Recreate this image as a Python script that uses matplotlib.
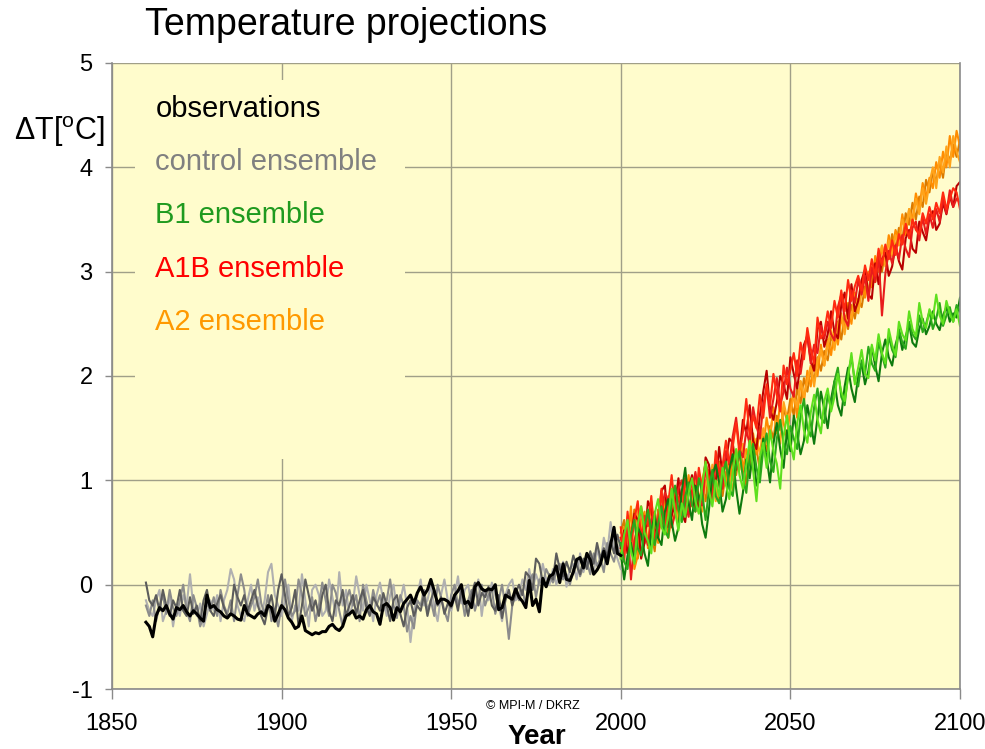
import numpy as np
import matplotlib
matplotlib.use("Agg")
import matplotlib.pyplot as plt
from matplotlib.patches import Rectangle

plt.rcParams['font.family'] = ['Liberation Sans', 'DejaVu Sans']
plt.rcParams['mathtext.fontset'] = 'custom'
plt.rcParams['mathtext.rm'] = 'Liberation Sans'
plt.rcParams['axes.unicode_minus'] = False

# ---- data ----
hist_years = np.arange(1860, 2001)
scen_years = np.arange(2000, 2101)

observations = [
    -0.36, -0.40, -0.50, -0.30, -0.22, -0.25, -0.20, -0.28, -0.33, -0.22,
    -0.24, -0.20, -0.26, -0.30, -0.25, -0.28, -0.32, -0.35, -0.10, -0.22,
    -0.20, -0.24, -0.26, -0.30, -0.32, -0.28, -0.30, -0.33, -0.34, -0.20,
    -0.28, -0.30, -0.32, -0.28, -0.26, -0.30, -0.20, -0.22, -0.35, -0.28,
    -0.20, -0.24, -0.32, -0.36, -0.42, -0.40, -0.30, -0.44, -0.46, -0.48,
    -0.46, -0.47, -0.45, -0.45, -0.40, -0.38, -0.42, -0.44, -0.40, -0.30,
    -0.28, -0.25, -0.32, -0.30, -0.33, -0.24, -0.20, -0.26, -0.28, -0.38,
    -0.20, -0.18, -0.22, -0.34, -0.22, -0.26, -0.18, -0.14, -0.10, -0.18,
    -0.08, -0.02, -0.10, -0.05, 0.05, -0.06, -0.18, -0.14, -0.14, -0.16,
    -0.20, -0.10, -0.06, 0.00, -0.18, -0.16, -0.22, -0.02, 0.02, -0.04,
    -0.06, -0.04, -0.05, 0.00, -0.24, -0.22, -0.10, -0.12, -0.14, -0.04,
    -0.12, -0.16, -0.22, 0.04, -0.20, -0.14, -0.26, 0.06, -0.02, 0.08,
    0.10, 0.18, 0.02, 0.20, 0.05, 0.04, 0.12, 0.24, 0.26, 0.16,
    0.30, 0.24, 0.10, 0.14, 0.20, 0.32, 0.20, 0.38, 0.55, 0.30,
    0.28]

control_1 = [
    0.02, -0.15, -0.20, -0.10, -0.25, -0.05, -0.20, -0.30, -0.15, -0.22,
    -0.05, -0.25, -0.30, -0.12, -0.28, -0.20, -0.35, -0.15, -0.05, -0.25,
    -0.30, -0.18, -0.10, -0.22, -0.30, -0.28, 0.00, -0.12, -0.20, -0.10,
    -0.25, -0.15, -0.05, -0.20, -0.30, -0.38, -0.22, -0.10, -0.30, -0.05,
    0.10, -0.10, -0.30, -0.22, -0.05, -0.40, -0.20, 0.05, -0.10, -0.25,
    -0.15, -0.30, -0.10, 0.00, -0.25, -0.35, -0.15, -0.20, -0.05, -0.30,
    -0.20, -0.10, -0.28, -0.15, -0.05, -0.22, -0.30, -0.12, -0.18, -0.25,
    -0.08, -0.20, -0.35, -0.15, -0.10, -0.28, -0.40, -0.22, -0.15, -0.30,
    -0.20, -0.25, -0.10, -0.30, -0.15, -0.05, -0.20, -0.12, -0.28, -0.18,
    -0.22, -0.10, -0.25, -0.05, -0.15, -0.30, -0.10, 0.02, -0.20, -0.08,
    -0.12, -0.02, -0.20, -0.25, -0.10, -0.32, -0.15, -0.05, -0.20, -0.08,
    0.00, -0.10, 0.12, 0.08, -0.05, 0.25, 0.20, 0.02, -0.02, 0.10,
    0.05, 0.30, 0.15, 0.08, 0.22, 0.12, 0.28, 0.18, 0.10, 0.25,
    0.15, 0.32, 0.20, 0.40, 0.25, 0.35, 0.28, 0.42, 0.30, 0.48,
    0.35]

control_2 = [
    -0.20, -0.30, -0.15, -0.35, -0.20, -0.10, -0.28, -0.05, -0.22, -0.30,
    -0.15, 0.00, -0.25, -0.35, -0.10, -0.22, -0.40, -0.30, -0.18, -0.25,
    -0.12, -0.30, -0.05, -0.20, -0.28, -0.15, -0.35, -0.10, 0.10, -0.05,
    -0.30, -0.20, -0.12, 0.05, -0.18, -0.28, -0.10, -0.35, -0.25, -0.40,
    -0.20, 0.05, -0.15, -0.30, -0.25, 0.05, -0.10, -0.30, -0.22, -0.12,
    -0.35, -0.20, 0.02, -0.15, -0.30, 0.00, -0.08, -0.25, -0.40, -0.15,
    -0.05, -0.20, -0.10, -0.35, 0.00, -0.15, -0.28, -0.05, -0.20, -0.10,
    -0.25, -0.15, 0.05, -0.20, -0.32, -0.10, -0.20, -0.45, -0.30, -0.42,
    -0.15, -0.20, -0.05, -0.25, -0.15, -0.30, 0.00, -0.12, -0.25, -0.35,
    -0.10, 0.00, -0.20, -0.08, -0.30, -0.15, -0.05, -0.25, -0.12, 0.00,
    -0.20, -0.10, -0.05, -0.28, -0.15, 0.00, -0.22, -0.52, -0.20, -0.08,
    -0.15, -0.05, -0.20, 0.02, 0.10, -0.12, 0.05, 0.00, 0.15, 0.08,
    0.02, 0.12, 0.20, 0.05, 0.10, 0.00, 0.15, 0.25, 0.08, 0.18,
    0.22, 0.10, 0.30, 0.18, 0.25, 0.12, 0.40, 0.30, 0.22, 0.38,
    0.25]

control_3 = [
    -0.15, -0.25, -0.30, -0.15, -0.05, -0.35, -0.25, -0.12, -0.40, -0.20,
    -0.30, -0.10, -0.20, 0.10, -0.22, -0.30, -0.18, -0.40, -0.28, -0.15,
    -0.25, -0.10, -0.35, -0.15, -0.05, 0.15, 0.05, -0.20, -0.30, -0.35,
    -0.15, 0.00, -0.25, -0.12, -0.30, -0.15, 0.12, 0.20, -0.10, -0.20,
    -0.30, -0.15, 0.00, -0.35, -0.20, -0.25, 0.10, -0.15, -0.40, -0.05,
    0.00, -0.10, -0.30, -0.25, 0.05, -0.12, -0.30, 0.12, -0.20, -0.05,
    -0.30, -0.18, 0.08, -0.10, -0.25, 0.00, -0.15, -0.35, -0.10, 0.02,
    -0.15, -0.30, -0.10, 0.00, -0.25, -0.15, 0.00, -0.20, -0.55, -0.25,
    -0.10, 0.05, -0.20, -0.15, 0.00, -0.22, -0.35, -0.10, 0.05, -0.15,
    -0.25, -0.12, 0.08, -0.18, -0.05, 0.00, -0.20, -0.10, 0.05, -0.30,
    -0.05, -0.15, 0.02, -0.10, -0.20, -0.35, -0.10, 0.00, 0.05, -0.15,
    -0.10, 0.05, -0.05, 0.15, -0.05, 0.10, 0.00, 0.20, 0.05, 0.00,
    0.15, 0.00, 0.10, 0.22, -0.02, 0.15, 0.20, 0.05, 0.30, 0.12,
    0.25, 0.20, 0.10, 0.35, 0.20, 0.45, 0.30, 0.60, 0.35, 0.25,
    0.15]

b1_1 = [
    0.30,
    0.05, 0.28, 0.40, 0.22, 0.55, 0.48, 0.30, 0.18, 0.52, 0.66,
    0.45, 0.38, 0.70, 0.82, 0.60, 0.42, 0.55, 0.90, 1.12, 0.78,
    0.62, 0.95, 0.85, 0.58, 0.45, 0.72, 1.05, 1.15, 0.98, 0.70,
    0.82, 1.10, 1.25, 0.92, 0.68, 0.88, 1.20, 1.02, 1.30, 0.95,
    1.08, 1.40, 1.22, 0.98, 1.35, 1.55, 1.30, 1.12, 1.48, 1.28,
    1.62, 1.45, 1.25, 1.38, 1.72, 1.55, 1.35, 1.60, 1.85, 1.68,
    1.50, 1.78, 1.95, 1.72, 1.62, 1.90, 2.08, 1.88, 1.75, 2.00,
    2.12, 1.92, 2.05, 2.28, 2.10, 1.95, 2.22, 2.35, 2.18, 2.10,
    2.30, 2.42, 2.25, 2.38, 2.50, 2.32, 2.28, 2.45, 2.55, 2.40,
    2.48, 2.62, 2.50, 2.44, 2.58, 2.66, 2.52, 2.60, 2.56, 2.75]

b1_2 = [
    0.40,
    0.22, 0.15, 0.48, 0.62, 0.35, 0.28, 0.55, 0.72, 0.50, 0.38,
    0.58, 0.75, 0.52, 0.45, 0.80, 0.95, 0.72, 0.60, 0.85, 0.98,
    0.76, 0.70, 1.02, 0.88, 0.62, 0.92, 1.10, 0.85, 0.78, 1.05,
    1.18, 0.92, 0.85, 1.15, 1.28, 1.02, 0.88, 1.22, 1.35, 1.12,
    0.98, 1.30, 1.45, 1.18, 1.08, 1.40, 1.58, 1.36, 1.25, 1.52,
    1.40, 1.30, 1.62, 1.78, 1.50, 1.42, 1.70, 1.88, 1.60, 1.55,
    1.82, 1.68, 1.95, 2.08, 1.80, 1.72, 2.02, 2.18, 1.95, 1.90,
    2.15, 2.02, 2.28, 2.12, 2.05, 2.32, 2.20, 2.08, 2.38, 2.25,
    2.18, 2.45, 2.32, 2.26, 2.52, 2.40, 2.35, 2.58, 2.42, 2.50,
    2.62, 2.45, 2.55, 2.70, 2.48, 2.58, 2.66, 2.52, 2.68, 2.62]

b1_3 = [
    0.25,
    0.48, 0.62, 0.32, 0.20, 0.58, 0.75, 0.50, 0.42, 0.30, 0.68,
    0.82, 0.55, 0.48, 0.66, 0.92, 0.70, 0.52, 0.78, 0.65, 0.88,
    1.02, 0.80, 0.68, 0.95, 1.18, 0.90, 0.75, 1.00, 0.85, 1.12,
    0.96, 0.82, 1.08, 1.30, 1.05, 0.92, 1.15, 1.38, 1.10, 0.80,
    1.22, 1.36, 1.12, 1.48, 1.28, 1.16, 0.92, 1.42, 1.62, 1.35,
    1.20, 1.55, 1.72, 1.48, 1.36, 1.65, 1.82, 1.58, 1.45, 1.76,
    1.88, 1.66, 1.80, 2.02, 1.85, 1.76, 1.98, 2.22, 1.92, 2.08,
    2.25, 2.02, 1.98, 2.30, 2.15, 2.40, 2.22, 2.12, 2.45, 2.30,
    2.20, 2.52, 2.40, 2.34, 2.62, 2.45, 2.38, 2.70, 2.52, 2.46,
    2.64, 2.55, 2.78, 2.58, 2.50, 2.72, 2.60, 2.52, 2.64, 2.48]

a1b_1 = [
    0.35,
    0.52, 0.30, 0.45, 0.68, 0.62, 0.25, 0.40, 0.80, 0.72, 0.48,
    0.58, 0.90, 0.95, 0.55, 0.66, 0.78, 1.02, 0.68, 0.60, 0.92,
    1.05, 0.88, 0.72, 0.80, 1.22, 1.15, 0.85, 0.98, 1.32, 1.05,
    1.18, 1.40, 1.36, 1.10, 1.25, 1.58, 1.45, 1.72, 1.38, 1.30,
    1.62, 1.85, 2.05, 1.68, 1.58, 1.75, 2.00, 1.92, 1.78, 2.18,
    2.02, 1.88, 2.12, 2.30, 2.38, 2.15, 2.05, 2.45, 2.52, 2.28,
    2.40, 2.62, 2.42, 2.36, 2.68, 2.80, 2.55, 2.88, 2.62, 2.72,
    2.92, 3.02, 2.78, 2.74, 3.08, 2.88, 3.12, 3.18, 2.96, 3.05,
    3.25, 3.10, 3.02, 3.32, 3.40, 3.22, 3.18, 3.48, 3.38, 3.30,
    3.52, 3.58, 3.40, 3.46, 3.66, 3.55, 3.72, 3.62, 3.82, 3.86]

a1b_2 = [
    0.45,
    0.30, 0.58, 0.05, 0.42, 0.55, 0.75, 0.50, 0.38, 0.62, 0.70,
    0.45, 0.72, 0.88, 0.80, 0.55, 0.68, 0.92, 1.00, 0.78, 0.65,
    0.90, 1.08, 0.82, 0.76, 1.12, 0.95, 0.80, 1.20, 1.10, 0.92,
    1.28, 1.15, 1.42, 1.60, 1.30, 1.22, 1.48, 1.35, 1.70, 1.52,
    1.40, 1.72, 1.90, 1.60, 1.78, 1.98, 1.72, 1.85, 2.08, 1.88,
    1.80, 2.15, 2.02, 2.25, 2.40, 2.12, 2.30, 2.22, 2.48, 2.36,
    2.52, 2.40, 2.34, 2.66, 2.78, 2.55, 2.48, 2.82, 2.70, 2.92,
    2.78, 2.96, 2.72, 3.04, 2.90, 3.15, 2.58, 2.98, 3.20, 3.08,
    3.25, 3.12, 3.35, 3.22, 3.14, 3.42, 3.48, 3.30, 3.52, 3.36,
    3.55, 3.42, 3.60, 3.48, 3.70, 3.56, 3.78, 3.62, 3.70, 3.66]

a1b_3 = [
    0.55,
    0.22, 0.70, 0.36, 0.62, 0.80, 0.44, 0.66, 0.56, 0.85, 0.40,
    0.60, 0.92, 0.52, 0.78, 1.05, 0.72, 0.84, 0.62, 1.02, 0.88,
    0.98, 0.70, 1.12, 0.92, 1.18, 1.02, 0.86, 1.28, 1.06, 1.14,
    1.38, 1.16, 1.32, 1.55, 1.26, 1.46, 1.78, 1.42, 1.62, 1.50,
    1.82, 1.60, 1.92, 1.72, 2.02, 1.82, 1.66, 2.10, 1.92, 2.06,
    2.22, 2.00, 2.32, 2.16, 2.46, 2.26, 2.12, 2.56, 2.36, 2.42,
    2.62, 2.46, 2.72, 2.56, 2.82, 2.62, 2.92, 2.72, 2.86, 2.96,
    2.82, 3.06, 2.92, 3.12, 2.96, 3.22, 3.06, 3.26, 3.12, 3.30,
    3.16, 3.36, 3.26, 3.46, 3.32, 3.50, 3.40, 3.36, 3.56, 3.46,
    3.62, 3.50, 3.66, 3.56, 3.76, 3.60, 3.70, 3.80, 3.76, 3.60]

a2_1 = [
    0.50,
    0.62, 0.30, 0.45, 0.72, 0.25, 0.52, 0.40, 0.68, 0.50, 0.32,
    0.72, 0.55, 0.82, 0.45, 0.65, 0.92, 0.60, 0.76, 1.02, 0.70,
    0.85, 1.06, 0.75, 0.95, 0.80, 1.10, 0.90, 1.00, 1.18, 0.85,
    1.08, 0.95, 1.22, 1.05, 1.28, 1.15, 0.95, 1.38, 1.20, 1.30,
    1.10, 1.42, 1.28, 1.52, 1.40, 1.62, 1.48, 1.68, 1.58, 1.78,
    1.62, 1.88, 1.74, 1.98, 1.85, 2.08, 1.95, 2.18, 2.05, 2.24,
    2.15, 2.38, 2.30, 2.52, 2.35, 2.58, 2.45, 2.68, 2.55, 2.74,
    2.66, 2.86, 2.80, 3.02, 2.90, 3.16, 3.00, 3.22, 3.12, 3.36,
    3.22, 3.42, 3.30, 3.56, 3.45, 3.66, 3.50, 3.72, 3.62, 3.88,
    3.76, 3.96, 3.86, 4.06, 3.90, 4.16, 4.06, 4.22, 4.10, 4.26]

a2_2 = [
    0.30,
    0.55, 0.40, 0.75, 0.15, 0.28, 0.60, 0.70, 0.35, 0.80, 0.55,
    0.40, 0.75, 0.60, 0.85, 0.55, 0.70, 0.95, 0.65, 0.80, 1.05,
    0.75, 0.90, 0.70, 1.00, 1.15, 0.85, 1.05, 0.90, 0.80, 1.10,
    0.95, 1.20, 1.00, 1.15, 1.35, 1.10, 1.30, 1.15, 1.45, 1.25,
    1.50, 1.30, 1.60, 1.40, 1.70, 1.45, 1.75, 1.55, 1.40, 1.70,
    1.85, 1.60, 1.95, 1.75, 2.05, 1.90, 2.15, 2.00, 2.30, 2.10,
    2.35, 2.20, 2.45, 2.30, 2.55, 2.45, 2.70, 2.50, 2.80, 2.65,
    2.90, 2.75, 3.00, 2.85, 3.15, 3.00, 3.25, 3.10, 3.35, 3.20,
    3.40, 3.30, 3.55, 3.35, 3.60, 3.50, 3.75, 3.60, 3.85, 3.70,
    3.90, 3.80, 4.05, 3.90, 4.15, 4.00, 4.30, 4.10, 4.35, 4.20]

a2_3 = [
    0.45,
    0.35, 0.65, 0.50, 0.30, 0.75, 0.55, 0.40, 0.70, 0.60, 0.45,
    0.60, 0.85, 0.70, 0.55, 0.90, 0.75, 0.60, 0.85, 0.70, 0.95,
    0.80, 1.05, 0.85, 0.70, 1.00, 0.95, 1.15, 0.80, 1.05, 0.95,
    1.20, 1.05, 0.90, 1.25, 1.10, 1.35, 1.20, 1.05, 1.30, 1.40,
    1.25, 1.50, 1.35, 1.45, 1.65, 1.50, 1.35, 1.75, 1.60, 1.65,
    1.80, 1.70, 1.95, 1.80, 1.95, 2.10, 1.90, 2.15, 2.25, 2.10,
    2.30, 2.45, 2.25, 2.50, 2.60, 2.40, 2.65, 2.55, 2.75, 2.60,
    2.80, 2.95, 2.75, 3.05, 2.90, 3.10, 3.25, 3.05, 3.30, 3.15,
    3.35, 3.25, 3.50, 3.40, 3.60, 3.45, 3.70, 3.55, 3.80, 3.65,
    3.85, 4.00, 3.80, 4.10, 3.95, 4.20, 4.00, 4.30, 4.15, 4.05]

legend_labels = ["observations", "control ensemble", "B1 ensemble",
                 "A1B ensemble", "A2 ensemble"]
legend_colors = ["#000000", "#808080", "#1f9a1f", "#ff0000", "#ff9900"]

x_ticks = [1850, 1900, 1950, 2000, 2050, 2100]
y_ticks = [-1, 0, 1, 2, 3, 4, 5]

# ---- figure ----
bg = "#fffccc"
fig = plt.figure(figsize=(9.85, 7.49), dpi=100)
ax = fig.add_axes([0.1137, 0.0801, 0.8609, 0.8358])
ax.set_facecolor(bg)
ax.set_xlim(1850, 2100)
ax.set_ylim(-1, 5)
ax.set_xticks(x_ticks)
ax.set_yticks(y_ticks)
ax.set_axisbelow(True)
ax.grid(True, color="#a09f88", linewidth=1.0)

ax.spines["top"].set_visible(False)
for s in ["left", "bottom", "right"]:
    ax.spines[s].set_color("#8a8a8a")
    ax.spines[s].set_linewidth(1.2)

ax.tick_params(axis="y", length=5, width=1, color="#8a8a8a", pad=9,
               labelsize=17)
ax.tick_params(axis="x", length=7, width=1, color="#8a8a8a", pad=10,
               labelsize=17)

# box behind the legend text hides the grid
ax.add_patch(Rectangle((1856.8, 1.2), 79.6, 3.64, facecolor=bg,
                       edgecolor="none", zorder=1))

# historical runs
ax.plot(hist_years, control_3, color="#b0b0b0", lw=1.5, zorder=2)
ax.plot(hist_years, control_2, color="#8c8c8c", lw=1.5, zorder=2)
ax.plot(hist_years, control_1, color="#5c5c5c", lw=1.5, zorder=2)
ax.plot(hist_years, observations, color="#000000", lw=2.2, zorder=3)

# scenario runs
ax.plot(scen_years, a2_1, color="#d97a00", lw=1.5, zorder=2)
ax.plot(scen_years, a2_2, color="#ff8c00", lw=1.5, zorder=2)
ax.plot(scen_years, a2_3, color="#ffa31a", lw=1.5, zorder=2)
ax.plot(scen_years, a1b_1, color="#b80000", lw=1.5, zorder=2)
ax.plot(scen_years, a1b_2, color="#e81c1c", lw=1.5, zorder=2)
ax.plot(scen_years, a1b_3, color="#ff2a10", lw=1.5, zorder=2)
ax.plot(scen_years, b1_1, color="#0e7a0e", lw=1.5, zorder=2)
ax.plot(scen_years, b1_2, color="#2aa81a", lw=1.5, zorder=2)
ax.plot(scen_years, b1_3, color="#5ee01e", lw=1.5, zorder=2)

# legend as coloured text
for i, (lab, col) in enumerate(zip(legend_labels, legend_colors)):
    ax.text(1862.8, 4.56 - 0.51 * i, lab, color=col, fontsize=21,
            va="center", ha="left", zorder=4)

fig.text(0.147, 0.967, "Temperature projections", fontsize=27,
         va="center", ha="left")
fig.text(0.014, 0.824, r"$\Delta$T[$^{\rm o}$C]", fontsize=22,
         va="center", ha="left")
fig.text(0.545, 0.016, "Year", fontsize=20, fontweight="bold",
         va="center", ha="center")
fig.text(0.541, 0.057, "\u00a9 MPI-M / DKRZ", fontsize=9,
         va="center", ha="center")

fig.savefig("out.png", dpi=100)
